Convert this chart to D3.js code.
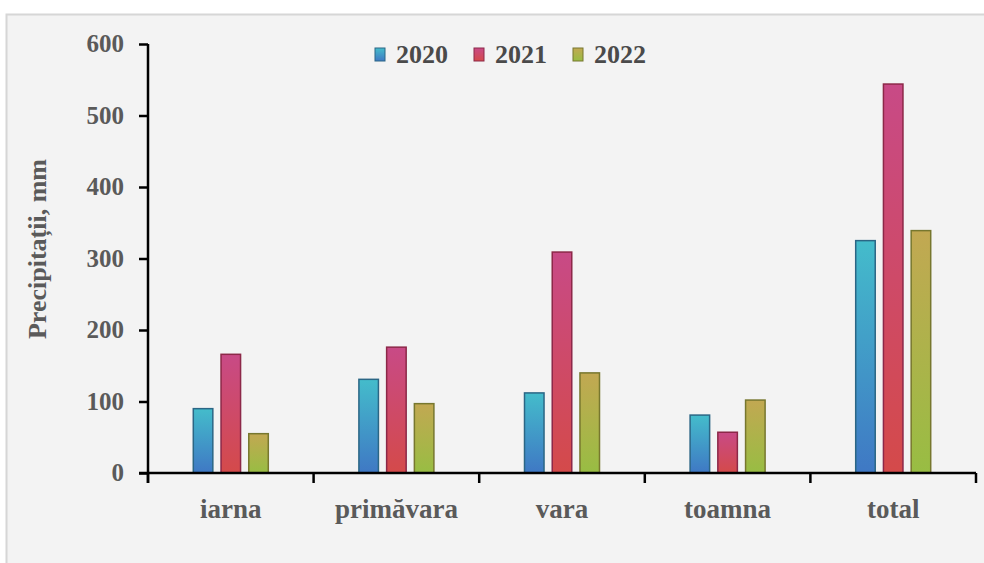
<!DOCTYPE html>
<html>
<head>
<meta charset="utf-8">
<script src="https://cdn.jsdelivr.net/npm/d3@7"></script>
<style>
  html, body { margin: 0; padding: 0; background: #fff; }
  svg text { font-family: "Liberation Serif", "DejaVu Serif", serif; font-weight: bold; }
</style>
</head>
<body>
<div id="chart"></div>
<script>
document.addEventListener("DOMContentLoaded", function(e) {

  var seasons = ["iarna", "primăvara", "vara", "toamna", "total"];
  var years = ["2020", "2021", "2022"];
  var values2020 = [90, 131, 112, 81, 325];
  var values2021 = [166, 176, 309, 57, 544];
  var values2022 = [55, 97, 140, 102, 339];
  var yTicks = [0, 100, 200, 300, 400, 500, 600];

  var seriesValues = [values2020, values2021, values2022];
  var data = seasons.map(function(s, i) {
    return { name: s, values: years.map(function(y, j) { return { year: y, value: seriesValues[j][i] }; }) };
  });

  var colors = {
    "2020": { top: "#44bccb", bottom: "#3f78c4", stroke: "#2b6685" },
    "2021": { top: "#c84a86", bottom: "#d44a4a", stroke: "#8c2848" },
    "2022": { top: "#c2a852", bottom: "#98bd43", stroke: "#77772e" }
  };

  var width = 984, height = 563,
    left = 148, right = 976, top = 44, bottom = 473;

  var svg = d3.select("#chart").append("svg")
      .attr("width", width)
      .attr("height", height);

  // panel background
  svg.append("rect")
    .attr("x", 6.5).attr("y", 14.5)
    .attr("width", 1000).attr("height", 600)
    .style("fill", "#f3f3f3")
    .style("stroke", "#d6d6d6")
    .style("stroke-width", "2px");

  var defs = svg.append("defs");
  years.forEach(function(y) {
    var g = defs.append("linearGradient")
      .attr("id", "grad" + y)
      .attr("x1", 0).attr("y1", 0).attr("x2", 0).attr("y2", 1);
    g.append("stop").attr("offset", "0%").attr("stop-color", colors[y].top);
    g.append("stop").attr("offset", "100%").attr("stop-color", colors[y].bottom);
  });

  var x0 = d3.scaleBand()
    .domain(seasons)
    .range([left, right])
    .padding(0);

  var groupWidth = 75;
  var x1 = d3.scaleBand()
    .domain(years)
    .range([0, groupWidth])
    .paddingInner(0.296)
    .paddingOuter(0);

  var y = d3.scaleLinear()
    .domain([0, 600])
    .range([bottom, top]);

  // bars
  var groups = svg.selectAll(".group")
      .data(data)
      .enter()
    .append("g")
      .attr("class", "group")
      .attr("transform", function(d) {
        return "translate(" + (x0(d.name) + x0.bandwidth() / 2 - groupWidth / 2) + ",0)";
      });

  groups.selectAll("rect")
      .data(function(d) { return d.values; })
      .enter()
    .append("rect")
      .attr("x", function(d) { return x1(d.year); })
      .attr("y", function(d) { return y(d.value); })
      .attr("width", x1.bandwidth())
      .attr("height", function(d) { return y(0) - y(d.value); })
      .style("fill", function(d) { return "url(#grad" + d.year + ")"; })
      .style("stroke", function(d) { return colors[d.year].stroke; })
      .style("stroke-width", "1.5px");

  // y axis
  var yAxis = d3.axisLeft(y)
    .tickValues(yTicks)
    .tickSize(9)
    .tickPadding(15)
    .tickSizeOuter(0);

  var yg = svg.append("g")
    .attr("transform", "translate(" + left + ",0)")
    .call(yAxis);
  yg.select(".domain").attr("d", "M0," + top + "V" + (bottom + 10))
    .style("stroke", "#000").style("stroke-width", "2.5px");
  yg.selectAll(".tick line").style("stroke", "#000").style("stroke-width", "2.5px");
  yg.selectAll(".tick text")
    .style("font-size", "25px")
    .style("fill", "#5a5a5a")
    .attr("dy", "0.3em");

  // x axis
  var boundaries = seasons.map(function(s) { return x0(s); }).concat([right]);
  var xg = svg.append("g");
  xg.append("line")
    .attr("x1", left - 9).attr("x2", right)
    .attr("y1", bottom).attr("y2", bottom)
    .style("stroke", "#000").style("stroke-width", "2.5px");
  xg.selectAll(".xtick")
      .data(boundaries)
      .enter()
    .append("line")
      .attr("class", "xtick")
      .attr("x1", function(d) { return d; }).attr("x2", function(d) { return d; })
      .attr("y1", bottom).attr("y2", bottom + 10)
      .style("stroke", "#000").style("stroke-width", "2.5px");
  xg.selectAll(".xlabel")
      .data(seasons)
      .enter()
    .append("text")
      .attr("class", "xlabel")
      .attr("x", function(d) { return x0(d) + x0.bandwidth() / 2; })
      .attr("y", 518)
      .attr("text-anchor", "middle")
      .style("font-size", "27px")
      .style("fill", "#5a5a5a")
      .text(function(d) { return d; });

  // y axis title
  svg.append("text")
    .attr("transform", "translate(46,249) rotate(-90)")
    .attr("text-anchor", "middle")
    .style("font-size", "26px")
    .style("fill", "#5a5a5a")
    .text("Precipitații, mm");

  // legend
  var legend = svg.selectAll(".legend")
      .data(years)
      .enter()
    .append("g")
      .attr("class", "legend")
      .attr("transform", function(d, i) { return "translate(" + (375 + i * 99) + ",0)"; });

  legend.append("rect")
    .attr("x", 0).attr("y", 48)
    .attr("width", 10).attr("height", 13)
    .style("fill", function(d) { return "url(#grad" + d + ")"; })
    .style("stroke", function(d) { return colors[d].stroke; })
    .style("stroke-width", "1px");

  legend.append("text")
    .attr("x", 21).attr("y", 62.5)
    .style("font-size", "26px")
    .style("fill", "#4a4a4a")
    .text(function(d) { return d; });
});
</script>
</body>
</html>
